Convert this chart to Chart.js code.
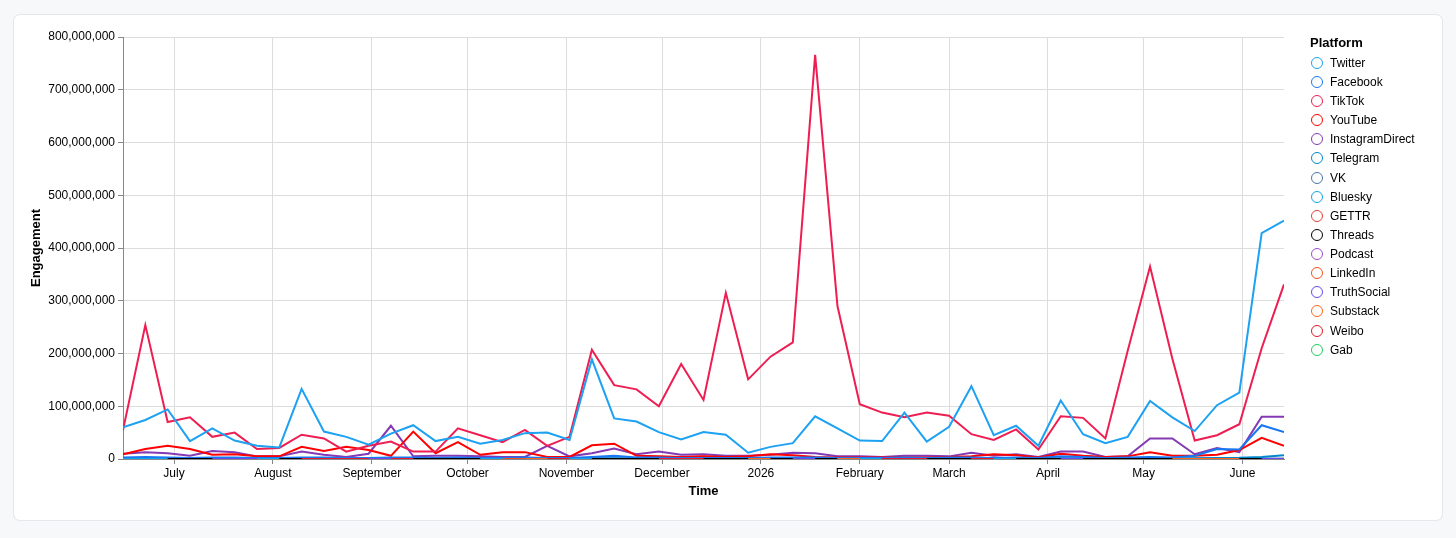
<!DOCTYPE html>
<html>
<head>
<meta charset="utf-8">
<title>Engagement by platform</title>
<script src="https://cdn.jsdelivr.net/npm/chart.js@4/dist/chart.umd.min.js"></script>
<style>
  html, body { margin: 0; padding: 0; background: #f7f8fa; }
  body { width: 1456px; height: 538px; position: relative; overflow: hidden;
         font-family: "Liberation Sans", Arial, Helvetica, sans-serif; }
  .card { position: absolute; left: 14px; top: 15px; width: 1428px; height: 505px;
          background: #fff; border-radius: 6px; box-shadow: 0 0 0 1px #e5e7eb; }
  .card canvas { position: absolute; left: 0; top: 0; }
  #legend { position: absolute; left: 1296px; top: 20px; color: #000; }
  #legend .title { font-weight: bold; font-size: 13px; line-height: 16px; height: 16px; margin-bottom: 2.1px; }
  #legend ul { list-style: none; margin: 0; padding: 0; }
  #legend li { display: flex; align-items: center; height: 19.15px; font-size: 12px; white-space: nowrap; }
  #legend .dot { width: 12px; height: 12px; box-sizing: border-box; border: 1.5px solid; border-radius: 50%;
                 margin-left: 1px; margin-right: 7px; flex: none; }
</style>
</head>
<body>
<div class="card">
  <canvas id="engagementChart" width="1428" height="505"></canvas>
  <div id="legend"></div>
</div>
<script>
const _ = null; // no data that week

// weekly buckets
const weeks = [
  '2025-06-15', '2025-06-22', '2025-06-29', '2025-07-06', '2025-07-13', '2025-07-20', '2025-07-27',
  '2025-08-03', '2025-08-10', '2025-08-17', '2025-08-24', '2025-08-31', '2025-09-07', '2025-09-14',
  '2025-09-21', '2025-09-28', '2025-10-05', '2025-10-12', '2025-10-19', '2025-10-26', '2025-11-02',
  '2025-11-09', '2025-11-16', '2025-11-23', '2025-11-30', '2025-12-07', '2025-12-14', '2025-12-21',
  '2025-12-28', '2026-01-04', '2026-01-11', '2026-01-18', '2026-01-25', '2026-02-01', '2026-02-08',
  '2026-02-15', '2026-02-22', '2026-03-01', '2026-03-08', '2026-03-15', '2026-03-22', '2026-03-29',
  '2026-04-05', '2026-04-12', '2026-04-19', '2026-04-26', '2026-05-03', '2026-05-10', '2026-05-17',
  '2026-05-24', '2026-05-31', '2026-06-07', '2026-06-14'
];

const tickDates = ['2025-07-01', '2025-08-01', '2025-09-01', '2025-10-01', '2025-11-01', '2025-12-01',
                   '2026-01-01', '2026-02-01', '2026-03-01', '2026-04-01', '2026-05-01', '2026-06-01'];
const tickLabels = ['July', 'August', 'September', 'October', 'November', 'December',
                    '2026', 'February', 'March', 'April', 'May', 'June'];

const platforms = ['Twitter', 'Facebook', 'TikTok', 'YouTube', 'InstagramDirect', 'Telegram', 'VK', 'Bluesky',
                   'GETTR', 'Threads', 'Podcast', 'LinkedIn', 'TruthSocial', 'Substack', 'Weibo', 'Gab'];
const colors = ['#1DA1F2', '#1877F2', '#EE1D52', '#FF0000', '#833AB4', '#0088CC', '#4C75A3', '#0EA5E9',
                '#E23E3E', '#000000', '#9B4DCA', '#F4511E', '#6A48EE', '#FF6719', '#E6162D', '#21CB62'];

// engagement, millions
const twitter = [60, 74, 94, 34, 58, 35, 25, 22, 133, 52,
                 42, 27, 48, 64, 34, 42, 29, 36, 49, 50,
                 36, 189, 77, 71, 51, 37, 51, 46, 12, 23,
                 30, 81, 58, 35, 34, 88, 33, 61, 138, 45,
                 63, 25, 111, 47, 30, 42, 110, 79, 53, 102,
                 126, 428, 452];
const facebook = [3, 4, 3, 2, 3, 3, 2, 2, 3, 3,
                  2, 2, 3, 3, 2, 3, 2, 2, 3, 2,
                  2, 4, 6, 3, 3, 2, 2, 2, 2, 3,
                  3, 3, 2, 2, 2, 3, 2, 3, 3, 2,
                  3, 2, 5, 4, 2, 3, 4, 3, 6, 19,
                  18, 64, 51];
const tiktok = [55, 254, 70, 79, 42, 50, 19, 21, 46, 39,
                14, 25, 33, 14, 14, 58, 45, 32, 55, 25,
                42, 207, 140, 132, 100, 180, 112, 315, 151, 194,
                221, 766, 290, 104, 88, 79, 88, 82, 47, 36,
                56, 18, 81, 78, 39, 205, 365, 190, 35, 45,
                66, 210, 331];
const youtube = [9, 19, 25, 19, 8, 9, 5, 5, 23, 15,
                 23, 17, 6, 52, 11, 32, 8, 13, 13, 4,
                 4, 26, 29, 6, 5, 4, 5, 4, 5, 9,
                 7, 4, 3, 3, 3, 3, 3, 4, 5, 9,
                 7, 3, 10, 6, 4, 5, 13, 6, 6, 8,
                 17, 40, 25];
const instagramDirect = [10, 13, 11, 6, 15, 13, 5, 5, 14, 8,
                         4, 10, 63, 5, 6, 6, 5, 4, 4, 25,
                         5, 11, 20, 9, 14, 8, 9, 6, 6, 8,
                         12, 11, 5, 5, 4, 6, 6, 5, 12, 6,
                         9, 4, 14, 14, 4, 5, 39, 39, 9, 21,
                         13, 80, 80];
const telegram = [1, 1.2, 1, 0.8, 1, 1, 0.7, 0.8, 1.3, 1,
                  0.9, 0.8, 1, 1.1, 0.9, 1, 0.8, 0.8, 1, 0.9,
                  0.8, 1.6, 1.5, 1, 1, 0.8, 0.9, 0.8, 0.7, 0.9,
                  1, 1.4, 1, 0.8, 0.8, 1, 0.8, 1, 1.2, 0.9,
                  1, 0.8, 1.5, 1.1, 0.9, 1, 1.2, 1, 1.3, 2,
                  2.4, 4, 7];
const vk = [0.3, 0.4, 0.3, 0.3, 0.3, 0.3, 0.2, 0.2, 0.4, 0.3,
            0.3, 0.2, 0.3, 0.3, 0.2, 0.3, 0.2, 0.2, 0.3, 0.2,
            0.2, 0.4, 0.4, 0.3, 0.3, 0.2, 0.2, 0.2, 0.2, 0.3,
            0.3, 0.4, 0.3, 0.2, 0.2, 0.3, 0.2, 0.3, 0.3, 0.2,
            0.3, 0.2, 0.4, 0.3, 0.2, 0.3, 0.3, 0.3, 0.3, 0.4,
            0.4, 0.5, 0.5];
const bluesky = [0, 0, 0, 0, 0, 0, 0, 0, 0, 0,
                 0, 0, 0, 0, 0, 0, 0, 0, 0, 0,
                 0, 0, 0, 0, 0, 0, 0, 0, 0, 0,
                 0, 0, 0, 0, 0, 0, 0, 0, 0, 0,
                 0, 0, 0, 0, 0, 0, 0, 0, 0, 0,
                 0, 0, 0];
const gettr = [0.2, 0.2, 0.1, 0.1, 0.2, 0.1, 0.1, 0.1, 0.2, 0.1,
               0.1, 0.1, 0.2, 0.1, 0.1, 0.1, 0.1, 0.1, 0.1, 0.1,
               0.1, 0.2, 0.2, 0.1, 0.1, 0.1, 0.1, 0.1, 0.1, 0.1,
               0.1, 0.2, 0.1, 0.1, 0.1, 0.1, 0.1, 0.1, 0.2, 0.1,
               0.1, 0.1, 0.2, 0.1, 0.1, 0.1, 0.1, 0.1, 0.1, 0.1,
               0.1, 0.2, 0.2];
const threads = [_, _, 0, 0, 0, 0, _, 0, 0, 0,
                 0, 0, 0, 0, 0, 0, 0, _, 0, 0,
                 _, 0, 0, 0, 0, 0, 0, 0, 0, 0,
                 0, 0, 0, _, 0, 0, 0, 0, 0, _,
                 0, 0, 0, 0, 0, 0, 0, 0, 0, 0,
                 0, 0, 0];
const podcast = [0.5, 0.6, 0.5, 0.4, 0.5, 0.5, 0.4, 0.4, 0.6, 0.5,
                 0.4, 0.4, 0.5, 0.5, 0.4, 0.5, 0.4, 0.4, 0.5, 0.4,
                 0.4, 0.6, 0.6, 0.5, 0.5, 0.4, 0.4, 0.4, 0.4, 0.5,
                 0.5, 0.6, 0.5, 0.4, 0.4, 0.5, 0.4, 0.5, 0.5, 0.4,
                 0.5, 0.4, 0.6, 0.5, 0.4, 0.5, 0.5, 0.5, 0.5, 0.6,
                 0.6, 0.7, 0.7];
const linkedIn = [_, _, _, _, _, _, _, _, _, _,
                  _, _, _, _, _, _, _, 0, 0, _,
                  _, _, _, _, _, _, _, _, _, _,
                  _, _, _, _, _, _, _, _, _, _,
                  _, _, _, _, _, _, _, _, _, _,
                  _, _, _];
const truthSocial = [_, _, _, _, 0, 0, 0, _, _, _,
                     _, 0, 0, _, _, _, _, _, _, _,
                     _, _, _, _, _, _, _, _, _, _,
                     0, 0, _, _, _, _, _, _, _, _,
                     _, _, 0, 0, _, _, _, _, _, _,
                     _, 0, 0];
const substack = [_, _, _, _, _, _, _, _, _, _,
                  _, _, _, _, _, _, _, _, 0, 0,
                  _, _, _, _, _, _, _, _, 0, 0,
                  _, _, 0, 0, _, _, _, _, _, _,
                  _, _, _, _, _, _, _, 0, 0, 0,
                  0, _, _];
const weibo = [_, _, _, _, _, _, _, _, 0, 0,
               0, 0, 0, 0, _, _, _, _, _, 0,
               0, _, _, _, 0, 0, 0, _, _, _,
               _, _, _, _, 0, 0, 0, _, 0, 0,
               _, _, _, _, _, _, _, _, _, _,
               _, _, _];
const gab = [0.1, 0.1, 0.1, 0.1, 0.1, 0.1, 0.1, 0.1, 0.1, 0.1,
             0.1, 0.1, 0.1, 0.1, 0.1, 0.1, 0.1, 0.1, 0.1, 0.1,
             0.1, 0.1, 0.1, 0.1, 0.1, 0.1, 0.1, 0.1, 0.1, 0.1,
             0.1, 0.1, 0.1, 0.1, 0.1, 0.1, 0.1, 0.1, 0.1, 0.1,
             0.1, 0.1, 0.1, 0.1, 0.1, 0.1, 0.1, 0.1, 0.1, 0.1,
             0.1, 0.1, 0.1];

const series = [twitter, facebook, tiktok, youtube, instagramDirect, telegram, vk, bluesky,
                gettr, threads, podcast, linkedIn, truthSocial, substack, weibo, gab];

// which lines sit on top where they all run along zero (lower = drawn later)
const layerOrder = { TruthSocial: -5, Substack: -4, LinkedIn: -4, Weibo: -3, Threads: -2, Bluesky: -1 };

function dayOf(iso) {
    const p = iso.split('-').map(Number);
    return Date.UTC(p[0], p[1] - 1, p[2]) / 86400000;
}
function withCommas(v) {
    return String(Math.round(v)).replace(/\B(?=(\d{3})+(?!\d))/g, ',');
}

const tickDays = tickDates.map(dayOf);

// легенда в html, как у исходника
const htmlLegend = {
    id: 'htmlLegend',
    afterUpdate(chart) {
        const box = document.getElementById('legend');
        box.innerHTML = '';
        const title = document.createElement('div');
        title.className = 'title';
        title.textContent = 'Platform';
        box.appendChild(title);
        const ul = document.createElement('ul');
        chart.data.datasets.forEach((ds) => {
            const li = document.createElement('li');
            const dot = document.createElement('span');
            dot.className = 'dot';
            dot.style.borderColor = ds.borderColor;
            li.appendChild(dot);
            li.appendChild(document.createTextNode(ds.label));
            ul.appendChild(li);
        });
        box.appendChild(ul);
    }
};

Chart.defaults.font.family = '"Liberation Sans", Arial, Helvetica, sans-serif';
Chart.defaults.color = '#000';

var ctx = document.getElementById('engagementChart').getContext('2d');

var engagementChart = new Chart(ctx, {
    type: 'line',
    data: {
        datasets: platforms.map((name, i) => ({
            label: name,
            data: series[i].map((v, k) => ({ x: dayOf(weeks[k]), y: v === null ? null : v * 1e6 })),
            borderColor: colors[i],
            backgroundColor: colors[i],
            borderWidth: 2,
            pointRadius: 0,
            tension: 0,
            spanGaps: false,
            order: layerOrder[name] || 0
        }))
    },
    options: {
        responsive: false,
        animation: false,
        events: [],
        layout: { padding: { left: 0, right: 158, top: 22, bottom: 0 } },
        scales: {
            x: {
                type: 'linear',
                min: dayOf(weeks[0]),
                max: dayOf(weeks[weeks.length - 1]),
                afterBuildTicks: function(scale) {
                    scale.ticks = tickDays.map((d) => ({ value: d }));
                },
                afterFit: function(scale) { scale.height = 61; },
                ticks: {
                    autoSkip: false,
                    maxRotation: 0,
                    padding: 2,
                    font: { size: 12 },
                    callback: function(value, index) { return tickLabels[index]; }
                },
                grid: { color: '#dddddd', tickColor: '#888888', tickLength: 5 },
                border: { color: '#888888' },
                title: {
                    display: true,
                    text: 'Time',
                    font: { size: 13, weight: 'bold' },
                    padding: { top: 0, bottom: 21 }
                }
            },
            y: {
                min: 0,
                max: 800000000,
                afterFit: function(scale) { scale.width = 109; },
                ticks: {
                    stepSize: 100000000,
                    padding: 3,
                    font: { size: 12 },
                    callback: function(value) { return withCommas(value); }
                },
                grid: { color: '#dddddd', tickColor: '#888888', tickLength: 5 },
                border: { color: '#888888' },
                title: {
                    display: true,
                    text: 'Engagement',
                    font: { size: 13, weight: 'bold' },
                    padding: { top: 15, bottom: 0 }
                }
            }
        },
        plugins: {
            legend: { display: false },
            tooltip: { enabled: false }
        }
    },
    plugins: [htmlLegend]
});
</script>
</body>
</html>
